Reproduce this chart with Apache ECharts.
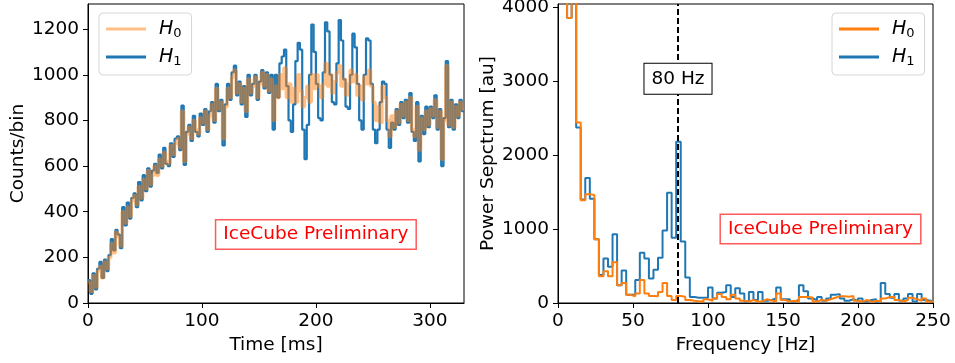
<!DOCTYPE html>
<html>
<head>
<meta charset="utf-8">
<script src="https://cdn.jsdelivr.net/npm/echarts@6/dist/echarts.min.js"></script>
<style>
  html, body { margin: 0; padding: 0; background: #fff; }
  #main { width: 955px; height: 363px; }
</style>
</head>
<body>
<div id="main"></div>
<script>
// time series, 2 ms bins from 0 to 330 ms
const TIME_BIN = 2;
const countsH0 = [
  90, 50, 120, 70, 140, 160, 110, 180, 150, 200,
  260, 220, 310, 290, 250, 400, 350, 420, 380, 450,
  470, 430, 510, 460, 540, 500, 580, 520, 560, 600,
  560, 630, 600, 660, 620, 610, 690, 650, 700, 720,
  680, 840, 620, 740, 770, 720, 800, 760, 740, 810,
  790, 840, 760, 820, 870, 800, 940, 850, 880, 720,
  860, 940, 900, 990, 1020, 920, 960, 880, 940, 840,
  980, 920, 950, 990, 900, 960, 1010, 950, 1000, 930,
  980, 800, 950, 900, 1000, 940, 1030, 900, 960, 880,
  940, 880, 1000, 930, 860, 900, 950, 880, 1000, 940,
  1000, 950, 900, 960, 1050, 950, 1000, 920, 970, 1010,
  1040, 950, 980, 910, 960, 1020, 970, 1000, 910, 950,
  890, 990, 960, 1020, 950, 880, 800, 860, 790, 950,
  900, 800, 730, 820, 770, 840, 790, 870, 820, 880,
  800, 900, 760, 730, 860, 670, 810, 760, 840, 780,
  850, 820, 890, 770, 840, 630, 800, 1040, 780, 880,
  770, 860, 820, 880, 850
];
const countsH1 = [
  100, 40, 130, 60, 150, 180, 110, 190, 140, 210,
  280, 230, 320, 300, 240, 420, 340, 440, 370, 460,
  480, 420, 530, 450, 560, 490, 590, 510, 580, 610,
  570, 650, 590, 680, 610, 600, 700, 640, 720, 730,
  670, 865, 605, 750, 780, 710, 820, 750, 730, 830,
  780, 850, 750, 840, 880, 790, 960, 840, 890, 690,
  870, 960, 890, 1010, 1040, 910, 970, 870, 950, 815,
  1000, 910, 960, 1000, 890, 970, 1020, 940, 1010, 920,
  1000, 760, 1000, 900, 1050, 1080, 1110, 950, 800, 750,
  870, 1060, 1140, 1110, 760, 630, 780, 1000, 1220, 1100,
  960, 810, 800, 1010, 1230, 1190, 1000, 880, 870, 1050,
  1240, 1150, 980, 860, 850, 1000, 1180, 1120, 960, 800,
  760, 1000, 1160, 1150, 960, 760, 700, 760, 880, 970,
  960, 760, 680, 790, 760, 850, 780, 880, 810, 890,
  790, 920, 750, 710, 880, 620, 820, 740, 860, 770,
  860, 810, 910, 760, 850, 600, 810, 1060, 770, 890,
  760, 870, 810, 890, 840
];

// power spectrum, bins of 1/330 ms
const FREQ_BIN = 1000 / 330;
const powerH0 = [
  20000, 9000, 3850, 6000, 2440, 1390, 1470, 1460, 860, 360,
  430, 360, 550, 240, 270, 110, 90, 130, 310, 130,
  95, 90, 150, 270, 95, 40, 95, 85, 40, 30,
  25, 20, 50, 30, 60, 120, 80, 50, 110, 60,
  30, 20, 40, 20, 25, 50, 35, 20, 130, 40,
  20, 30, 15, 80, 80, 75, 20, 40, 30, 50,
  70, 90, 90, 85, 95, 30, 20, 40, 15, 30,
  20, 60, 80, 80, 40, 20, 40, 70, 50, 30,
  60, 20, 20
];
const powerH1 = [
  20000, 9000, 3850, 6000, 2370, 1400, 1690, 1410, 860, 380,
  600, 490, 930, 240, 440, 110, 110, 310, 680, 600,
  330, 450, 610, 980, 1490, 880, 2180, 830, 345, 80,
  70, 70, 70, 210, 60, 140, 150, 240, 80, 200,
  130, 20, 150, 40, 150, 30, 40, 60, 210, 50,
  50, 20, 40, 240, 160, 60, 40, 80, 30, 60,
  110, 120, 60, 30, 50, 30, 60, 20, 40, 50,
  20, 270, 120, 70, 120, 30, 60, 120, 20, 120,
  40, 30, 20
];

const countTicks = [0, 200, 400, 600, 800, 1000, 1200];
const timeTicks = [0, 100, 200, 300];
const powerTicks = [0, 1000, 2000, 3000, 4000];
const freqTicks = [0, 50, 100, 150, 200, 250];
const MARK_FREQ = 80;

const BLUE = '#1f77b4';
const ORANGE = '#ff7f0e';
const FONT = 'DejaVu Sans';
const FS = 18.5;

// histogram values -> step points (left edges + closing edge)
function toSteps(values, width) {
  const pts = values.map((v, i) => [i * width, v]);
  pts.push([values.length * width, values[values.length - 1]]);
  return pts;
}

const chart = echarts.init(document.getElementById('main'));

function xAxisOpt(grid, max, ticks, name) {
  return {
    type: 'value', gridIndex: grid, min: 0, max: max,
    name: name, nameLocation: 'middle', nameGap: 31,
    nameTextStyle: { fontFamily: FONT, fontSize: FS, color: '#000' },
    axisLine: { lineStyle: { color: '#000', width: 1 } },
    axisTick: { show: true, length: 5, lineStyle: { color: '#000' }, customValues: ticks },
    axisLabel: { fontFamily: FONT, fontSize: FS, color: '#000', margin: 9, customValues: ticks,
                 formatter: v => String(v) },
    splitLine: { show: false }
  };
}

function yAxisOpt(grid, max, ticks, name, gap) {
  return {
    type: 'value', gridIndex: grid, min: 0, max: max,
    name: name, nameLocation: 'middle', nameGap: gap,
    nameTextStyle: { fontFamily: FONT, fontSize: FS, color: '#000' },
    axisLine: { show: true, lineStyle: { color: '#000', width: 1 } },
    axisTick: { show: true, length: 5, lineStyle: { color: '#000' }, customValues: ticks },
    axisLabel: { fontFamily: FONT, fontSize: FS, color: '#000', margin: 9, customValues: ticks,
                 formatter: v => String(v) },
    splitLine: { show: false }
  };
}

function legendOpt(left, top, h0Color) {
  return {
    left: left, top: top, orient: 'vertical',
    data: [
      { name: 'H0', icon: 'rect', itemStyle: { color: h0Color } },
      { name: 'H1', icon: 'rect', itemStyle: { color: BLUE } }
    ],
    itemWidth: 40, itemHeight: 3, itemGap: 6,
    padding: [5, 10, 7, 7],
    backgroundColor: '#fff',
    borderColor: '#d6d6d6', borderWidth: 1, borderRadius: 4,
    selectedMode: false,
    formatter: name => '{i|H}{s|' + name.slice(1) + '}',
    textStyle: {
      padding: [0, 0, 0, 8],
      rich: {
        i: { fontFamily: FONT, fontStyle: 'italic', fontSize: 19, color: '#000', lineHeight: 22 },
        s: { fontFamily: FONT, fontSize: 13, color: '#000', lineHeight: 22, verticalAlign: 'bottom', padding: [9, 0, 0, 0] }
      }
    }
  };
}

const prelimLabel = {
  show: true, position: 'inside',
  formatter: 'IceCube Preliminary',
  fontFamily: FONT, fontSize: FS, color: '#ff0000',
  backgroundColor: '#fff',
  borderColor: 'rgba(255,0,0,0.65)', borderWidth: 1.5,
  padding: [5, 7, 4, 7]
};

const option = {
  animation: false,
  backgroundColor: '#fff',
  grid: [
    { left: 88, top: 4, width: 376, height: 299, show: true, borderColor: '#000', borderWidth: 1, outerBoundsMode: 'none' },
    { left: 558, top: 4, width: 375, height: 299, show: true, borderColor: '#000', borderWidth: 1, outerBoundsMode: 'none' }
  ],
  xAxis: [
    xAxisOpt(0, 330, timeTicks, 'Time [ms]'),
    xAxisOpt(1, 250, freqTicks, 'Frequency [Hz]')
  ],
  yAxis: [
    yAxisOpt(0, 1310, countTicks, 'Counts/bin', 51),
    yAxisOpt(1, 4040, powerTicks, 'Power Sepctrum [au]', 52)
  ],
  legend: [
    legendOpt(99, 13, 'rgba(255,127,14,0.5)'),
    legendOpt(832, 13, ORANGE)
  ],
  series: [
    {
      name: 'H1', type: 'line', xAxisIndex: 0, yAxisIndex: 0,
      step: 'end', showSymbol: false, z: 2,
      lineStyle: { color: BLUE, width: 2.2 }, itemStyle: { color: BLUE },
      data: toSteps(countsH1, TIME_BIN)
    },
    {
      name: 'H0', type: 'line', xAxisIndex: 0, yAxisIndex: 0,
      step: 'end', showSymbol: false, z: 3,
      lineStyle: { color: 'rgba(255,127,14,0.5)', width: 3.4 }, itemStyle: { color: 'rgba(255,127,14,0.5)' },
      data: toSteps(countsH0, TIME_BIN),
      markPoint: {
        symbol: 'circle', symbolSize: 0, silent: true,
        label: prelimLabel,
        data: [{ coord: [200, 300] }]
      }
    },
    {
      name: 'H1', type: 'line', xAxisIndex: 1, yAxisIndex: 1,
      step: 'end', showSymbol: false, z: 2,
      lineStyle: { color: BLUE, width: 2 }, itemStyle: { color: BLUE },
      data: toSteps(powerH1, FREQ_BIN),
      markLine: {
        silent: true, symbol: ['none', 'none'],
        label: { show: false },
        lineStyle: { color: '#000', type: [6, 3], width: 2 },
        data: [{ xAxis: MARK_FREQ }]
      }
    },
    {
      name: 'H0', type: 'line', xAxisIndex: 1, yAxisIndex: 1,
      step: 'end', showSymbol: false, z: 3,
      lineStyle: { color: ORANGE, width: 2 }, itemStyle: { color: ORANGE },
      data: toSteps(powerH0, FREQ_BIN),
      markPoint: {
        symbol: 'circle', symbolSize: 0, silent: true,
        data: [
          {
            coord: [MARK_FREQ, 3030],
            label: {
              show: true, position: 'inside', formatter: MARK_FREQ + ' Hz',
              fontFamily: FONT, fontSize: FS, color: '#000',
              backgroundColor: '#fff', borderColor: '#000', borderWidth: 1,
              padding: [6, 7, 5, 7]
            }
          },
          { coord: [175, 1000], label: prelimLabel }
        ]
      }
    }
  ]
};

chart.setOption(option);
</script>
</body>
</html>
